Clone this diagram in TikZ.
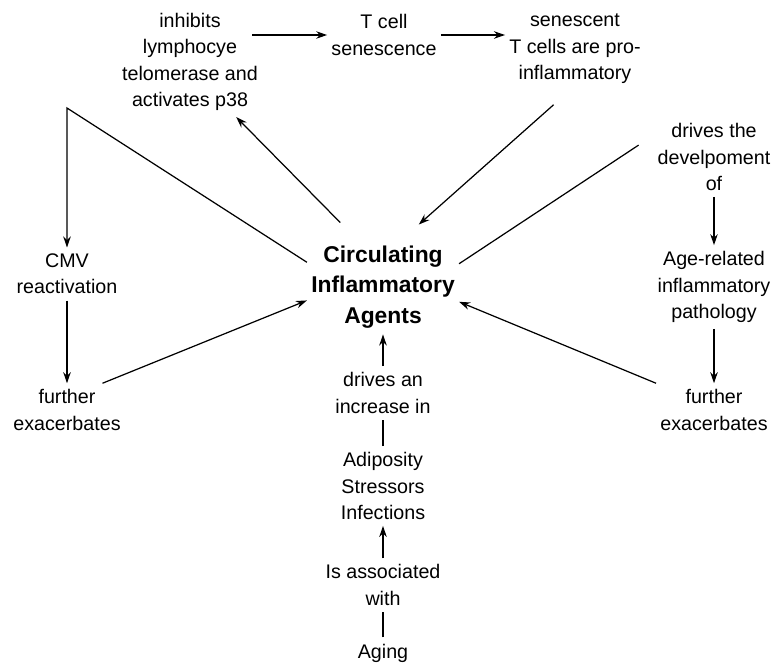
\documentclass[tikz,border=0pt]{standalone}
\usepackage{fontspec}
\setmainfont{Liberation Sans}
\usetikzlibrary{arrows.meta,positioning}
\tikzset{
    txt/.style={
        align=center,
        font=\fontsize{11.2}{15}\selectfont,
        inner xsep=0.8mm,
        inner ysep=1.2mm
    },
    hub/.style={
        align=center,
        font=\fontsize{13}{17.3}\selectfont\bfseries,
        inner xsep=0.8mm,
        inner ysep=1.2mm
    },
    arrow/.style={
        -{Stealth[length=2.2mm,width=1.5mm]},
        line width=0.7pt
    },
    link/.style={
        line width=0.7pt
    }
}

\begin{document}
\begin{tikzpicture}[x=0.2mm, y=-0.2mm]
    \useasboundingbox (0,0) rectangle (782,666);
    % Central node
    \node[hub] (cia) at (383,287) {Circulating\\Inflammatory\\Agents};

    % T cell branch (top)
    \node[txt] (inhib) at (190,62) {inhibits\\lymphocye\\telomerase and\\activates p38};
    \node[txt] (tsen) at (384,35) {T cell\\senescence};
    \node[txt, outer ysep=3mm] (prosen) at (575,49) {senescent\\T cells are pro-\\inflammatory};

    % Pathology branch (right)
    \node[txt, outer xsep=3mm] (develop) at (714,157) {drives the\\develpoment\\of};
    \node[txt] (pathol) at (714,287) {Age-related\\inflammatory\\pathology};
    \node[txt] (exacR) at (714,410) {further\\exacerbates};

    % CMV branch (left)
    \coordinate (turn) at (67,108);
    \node[txt] (cmv) at (67,274) {CMV\\reactivation};
    \node[txt] (exacL) at (67,410) {further\\exacerbates};

    % Stressors (bottom)
    \node[txt] (drives) at (383,393) {drives an\\increase in};
    \node[txt] (stress) at (383,486) {Adiposity\\Stressors\\Infections};
    \node[txt] (assoc) at (383,585) {Is associated\\with};
    \node[txt] (aging) at (383,653) {Aging};

    % Connections
    \draw[arrow] ([xshift=-2mm]inhib.east |- tsen) -- (tsen.west);
    \draw[arrow] (tsen.east) -- (prosen.west |- tsen);
    \draw[arrow] ([yshift=3.4mm]cia.132) -- (inhib.-50);
    \draw[arrow] (prosen.249) -- ([yshift=3mm]cia.53);
    \draw[link] (cia.17) -- (develop.171);
    \draw[arrow] (develop) -- (pathol);
    \draw[arrow] (pathol) -- (exacR);
    \draw[arrow] (exacR.north west) -- (cia.-11);
    \draw[arrow] (cia.162) -- (turn) -- (cmv);
    \draw[arrow] (cmv) -- (exacL);
    \draw[arrow] (exacL.37) -- (cia.190);
    \draw[arrow] (drives) -- (cia);
    \draw[link] (stress) -- (drives);
    \draw[arrow] (assoc) -- (stress);
    \draw[link] (aging) -- (assoc);
\end{tikzpicture}
\end{document}
